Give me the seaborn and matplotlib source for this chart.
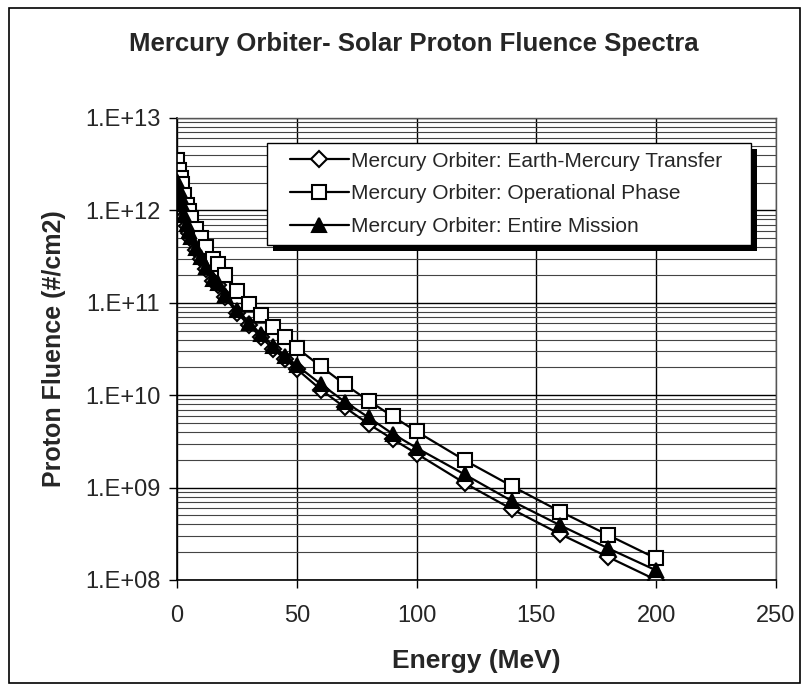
import numpy as np
import pandas as pd
import matplotlib
matplotlib.use("Agg")
import matplotlib.pyplot as plt
import matplotlib.ticker as mticker
from matplotlib.patches import Rectangle
from matplotlib.lines import Line2D
from matplotlib.legend_handler import HandlerLine2D
from matplotlib.transforms import IdentityTransform
import seaborn as sns

# ---- data ----
energy = [0.1, 1, 1.5, 2, 3, 4, 5, 6, 8, 10, 12, 15, 17, 20, 25, 30, 35, 40, 45, 50,
          60, 70, 80, 90, 100, 120, 140, 160, 180, 200]
transfer = [2.0e12, 1.62e12, 1.32e12, 1.12e12, 8.5e11, 6.8e11, 5.75e11, 4.9e11, 3.7e11, 2.95e11,
            2.35e11, 1.74e11, 1.55e11, 1.15e11, 7.8e10, 5.75e10, 4.27e10, 3.18e10, 2.47e10, 1.92e10,
            1.15e10, 7.4e9, 4.87e9, 3.35e9, 2.33e9, 1.12e9, 5.8e8, 3.13e8, 1.77e8, 1.0e8]
operational = [3.47e12, 2.75e12, 2.24e12, 1.91e12, 1.45e12, 1.15e12, 9.8e11, 8.3e11, 6.3e11, 5.0e11,
               4.0e11, 3.0e11, 2.6e11, 2.0e11, 1.35e11, 9.8e10, 7.4e10, 5.5e10, 4.3e10, 3.25e10,
               2.05e10, 1.31e10, 8.7e9, 5.9e9, 4.05e9, 1.98e9, 1.03e9, 5.5e8, 3.06e8, 1.71e8]
entire = [2.09e12, 1.70e12, 1.38e12, 1.17e12, 8.9e11, 7.1e11, 6.0e11, 5.1e11, 3.9e11, 3.1e11,
          2.45e11, 1.82e11, 1.62e11, 1.2e11, 8.3e10, 6.1e10, 4.6e10, 3.43e10, 2.67e10, 2.1e10,
          1.32e10, 8.5e9, 5.74e9, 3.82e9, 2.69e9, 1.39e9, 7.1e8, 3.9e8, 2.2e8, 1.27e8]

series_names = ["Mercury Orbiter: Earth-Mercury Transfer",
                "Mercury Orbiter: Operational Phase",
                "Mercury Orbiter: Entire Mission"]
x_ticks = [0, 50, 100, 150, 200, 250]

title = "Mercury Orbiter- Solar Proton Fluence Spectra"
xlabel = "Energy (MeV)"
ylabel = "Proton Fluence (#/cm2)"

# ---- styling ----
sns.set_theme(style="white")
plt.rcParams["font.family"] = ["Liberation Sans", "DejaVu Sans"]

fig = plt.figure(figsize=(8.09, 6.91), dpi=100)
ax = fig.add_axes([177 / 809, 1 - 580 / 691, (776 - 177) / 809, (580 - 118) / 691])

styles = [
    dict(marker="D", markerfacecolor="white", markersize=8),
    dict(marker="s", markerfacecolor="white", markersize=10.5),
    dict(marker="^", markerfacecolor="black", markersize=10),
]
for name, vals, st in zip(series_names, [transfer, operational, entire], styles):
    df = pd.DataFrame({"energy": energy, "fluence": vals})
    sns.lineplot(data=df, x="energy", y="fluence", ax=ax, color="black", lw=1.6,
                 markeredgecolor="black", markeredgewidth=1.5, label=name,
                 estimator=None, sort=True, **st)

ax.set_yscale("log")
ax.set_ylim(1e8, 1e13)
ax.set_xlim(0, 250)
ax.set_xticks(x_ticks)
ax.yaxis.set_major_locator(mticker.LogLocator(base=10, numticks=10))
ax.yaxis.set_minor_locator(mticker.LogLocator(base=10, subs=np.arange(2, 10), numticks=100))
ax.yaxis.set_major_formatter(mticker.FuncFormatter(lambda v, p: "1.E+%02d" % int(round(np.log10(v)))))
ax.yaxis.set_minor_formatter(mticker.NullFormatter())

ax.grid(True, which="major", axis="both", color="black", lw=1.0)
ax.grid(True, which="minor", axis="y", color="#444444", lw=0.8)
ax.set_axisbelow(True)

ax.tick_params(axis="both", which="major", direction="out", length=6, width=1, color="black",
               labelsize=17, left=True, bottom=True)
ax.tick_params(axis="x", which="major", pad=12)
ax.tick_params(axis="y", which="major", pad=6)
ax.tick_params(axis="y", which="minor", length=0)

for side in ["left", "bottom"]:
    ax.spines[side].set_color("black")
    ax.spines[side].set_linewidth(1.2)
for side in ["top", "right"]:
    ax.spines[side].set_color("#555555")
    ax.spines[side].set_linewidth(1.0)

ax.set_xlabel(xlabel, fontsize=19, fontweight="bold", labelpad=16)
ax.set_ylabel(ylabel, fontsize=18, fontweight="bold", labelpad=14)

fig.text(414 / 809, 1 - 44 / 691, title, ha="center", va="center", fontsize=18.5, fontweight="bold")

leg = ax.legend(loc="upper left", bbox_to_anchor=(0.150, 0.725, 0.808, 0.221), mode="expand",
                borderaxespad=0, frameon=True, fancybox=False, fontsize=15,
                handlelength=3.5, handletextpad=0.1, labelspacing=0.66, borderpad=0.42,
                handler_map={Line2D: HandlerLine2D(xpad=0.68)})
leg.get_frame().set_edgecolor("black")
leg.get_frame().set_linewidth(1.0)
leg.get_frame().set_facecolor("white")
leg.get_frame().set_alpha(1)
leg.set_zorder(10)

fig.canvas.draw()
bb = leg.get_window_extent()
shadow = Rectangle((bb.x0 + 6, bb.y0 - 6), bb.width, bb.height, transform=IdentityTransform(),
                   facecolor="black", edgecolor="none", zorder=9.9, clip_on=False)
ax.add_artist(shadow)

fig.patches.append(Rectangle((9 / 809, 1 - 683 / 691), (800 - 9) / 809, (683 - 8) / 691,
                             transform=fig.transFigure, fill=False, edgecolor="black", lw=1.2))

fig.savefig("out.png", dpi=100, facecolor="white")
